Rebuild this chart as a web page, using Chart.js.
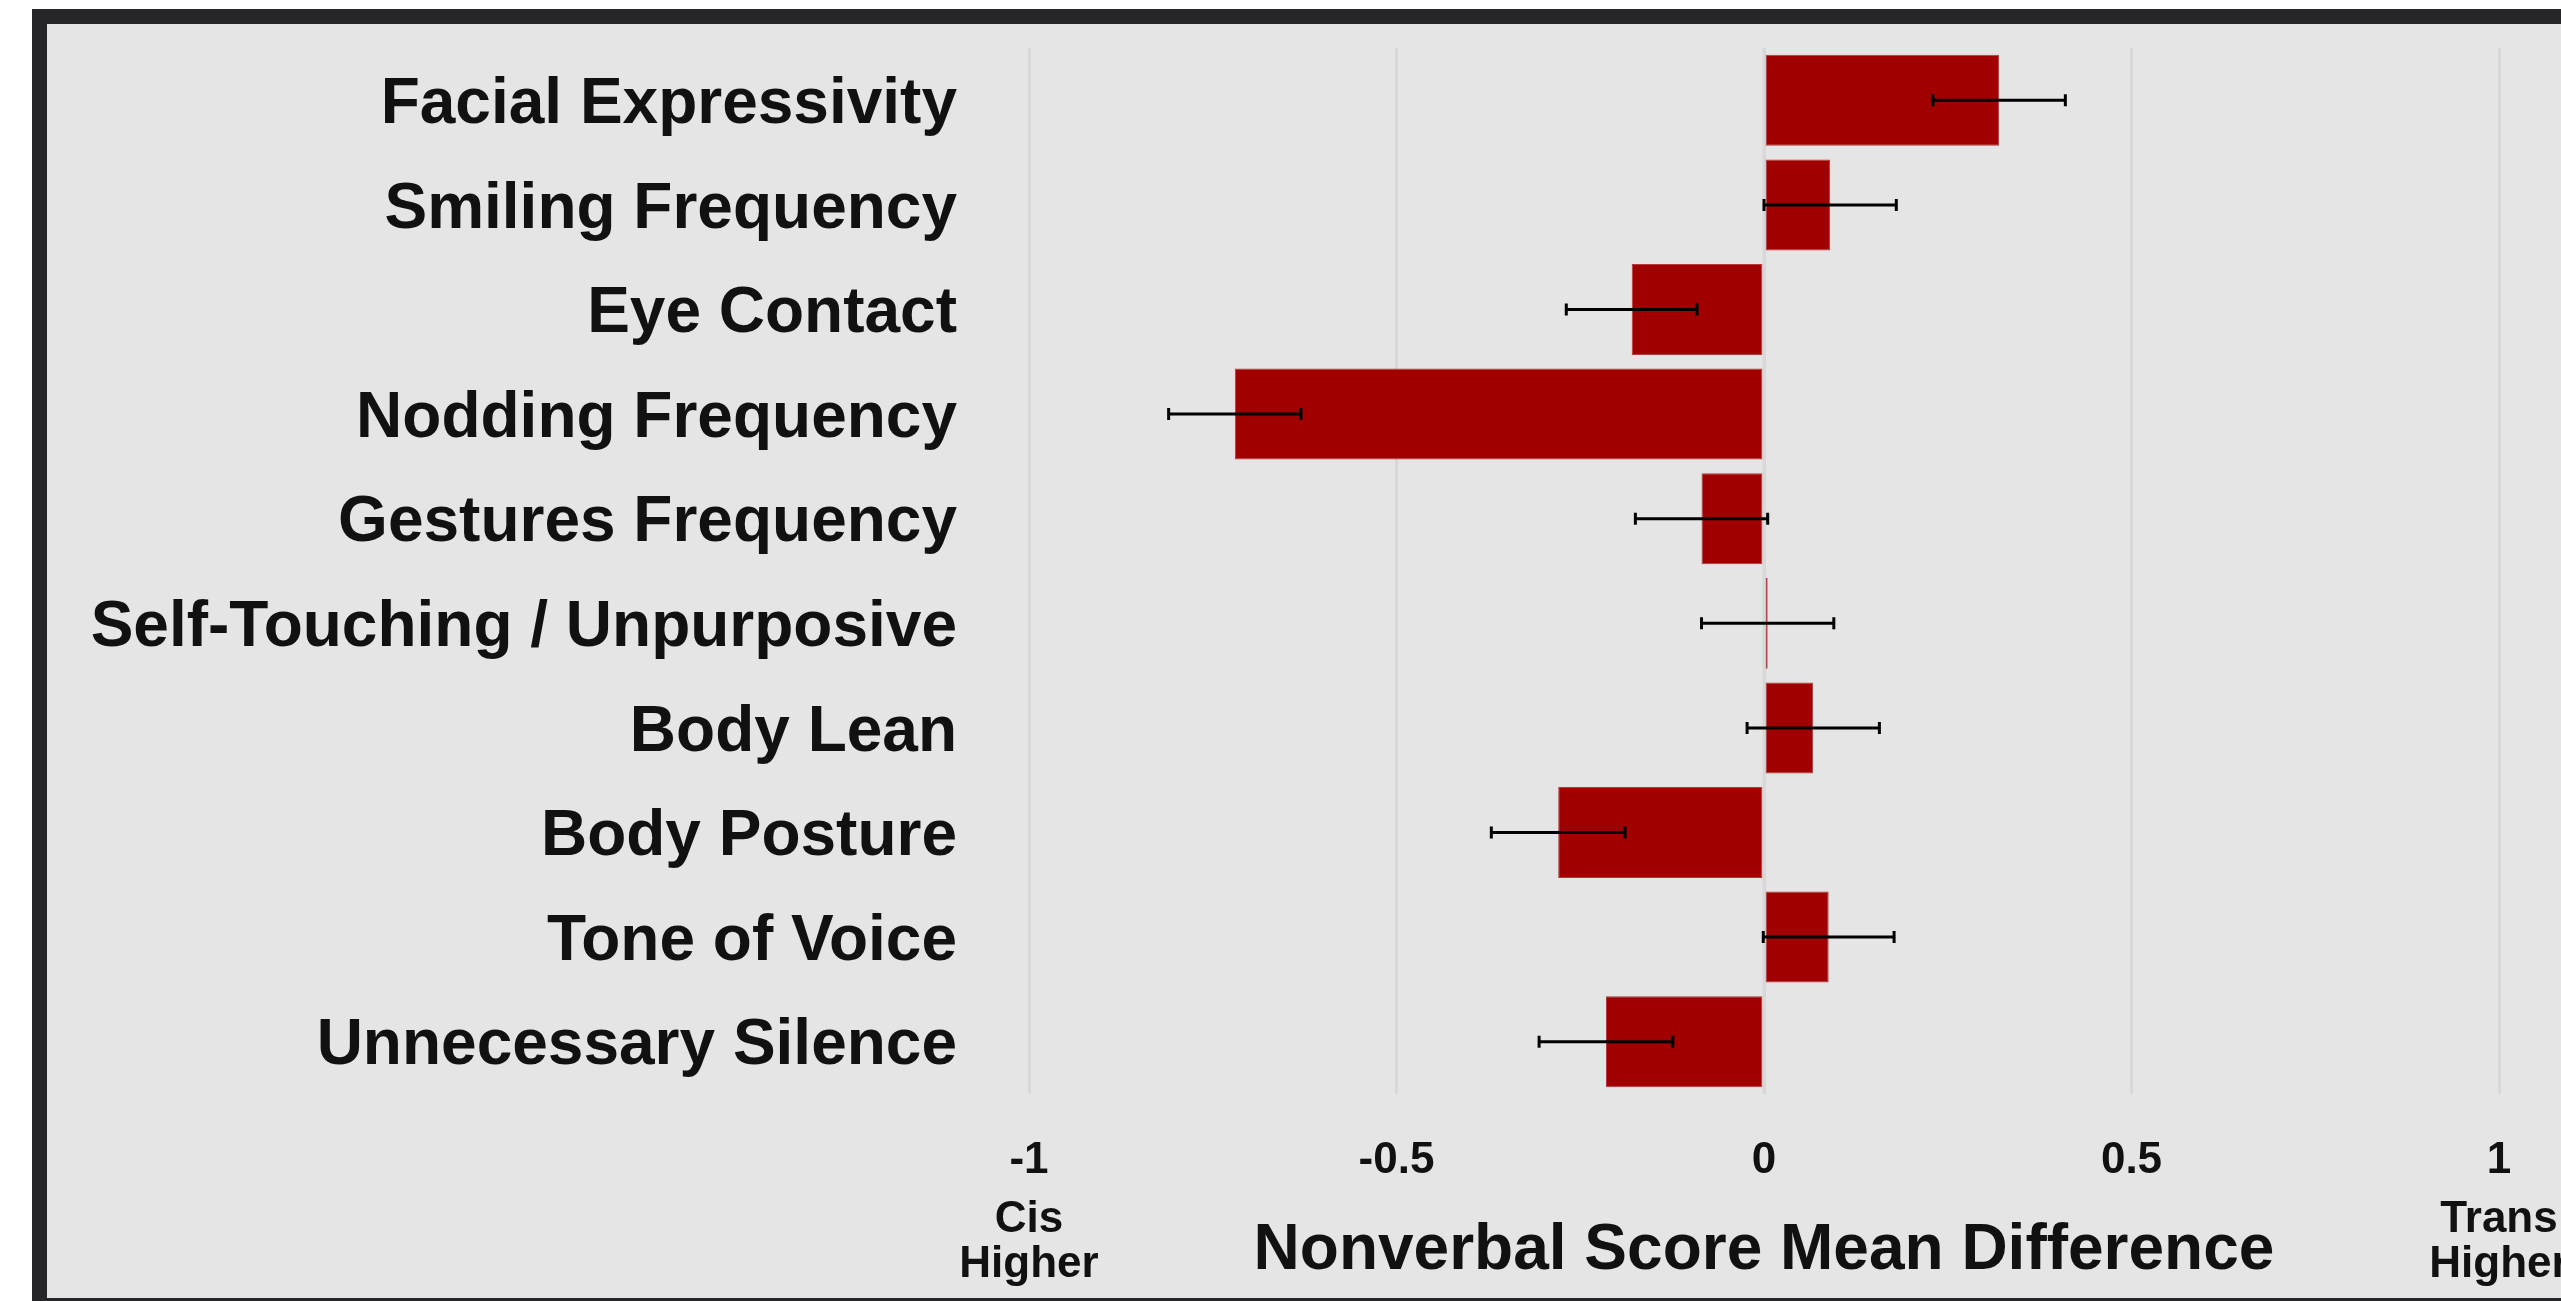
<!DOCTYPE html>
<html>
<head>
<meta charset="utf-8">
<title>Nonverbal Score Mean Difference</title>
<script src="https://cdn.jsdelivr.net/npm/chart.js@4.4.0/dist/chart.umd.min.js"></script>
<style>
  html, body { margin: 0; padding: 0; background: #ffffff; overflow: hidden; }
  #frame {
    position: absolute; left: 32px; top: 9px;
    border: 15px solid #262628;
    background: #e5e5e5;
    width: 2700px; height: 1274px;
  }
  #chart { display: block; }
</style>
</head>
<body>
<div id="frame">
  <canvas id="chart" width="2700" height="1274"></canvas>
</div>
<script>
var categories = ["Facial Expressivity", "Smiling Frequency", "Eye Contact", "Nodding Frequency",
  "Gestures Frequency", "Self-Touching / Unpurposive", "Body Lean", "Body Posture",
  "Tone of Voice", "Unnecessary Silence"];
var meanDiff = [0.32, 0.09, -0.18, -0.72, -0.085, 0.005, 0.067, -0.28, 0.088, -0.215];
var errSize  = [0.09, 0.09, 0.089, 0.09, 0.09, 0.09, 0.09, 0.091, 0.089, 0.091];
var tickValues = [-1, -0.5, 0, 0.5, 1];
var tickLabels = ["-1", "-0.5", "0", "0.5", "1"];
var endLabels = { "-1": ["Cis", "Higher"], "1": ["Trans", "Higher"] };

var gridColor = "#d8d8d8";
var textColor = "#111111";

Chart.defaults.font.family = "'Liberation Sans', Arial, Helvetica, sans-serif";
Chart.defaults.font.weight = "bold";
Chart.defaults.color = textColor;

// zero line sits over the bars, error bars over that
var overlay = {
  id: "overlay",
  afterDatasetsDraw: function(chart) {
    var ctx = chart.ctx;
    var x = chart.scales.x;
    var area = chart.chartArea;
    var meta = chart.getDatasetMeta(0);

    ctx.save();
    ctx.strokeStyle = gridColor;
    ctx.lineWidth = 3;
    var x0 = x.getPixelForValue(0);
    ctx.beginPath();
    ctx.moveTo(x0, area.top);
    ctx.lineTo(x0, area.bottom);
    ctx.stroke();

    ctx.strokeStyle = "#000000";
    ctx.lineWidth = 3;
    for (var i = 0; i < meanDiff.length; i++) {
      var y = meta.data[i].y;
      var lo = x.getPixelForValue(meanDiff[i] - errSize[i]);
      var hi = x.getPixelForValue(meanDiff[i] + errSize[i]);
      ctx.beginPath();
      ctx.moveTo(lo, y); ctx.lineTo(hi, y);
      ctx.moveTo(lo, y - 6); ctx.lineTo(lo, y + 6);
      ctx.moveTo(hi, y - 6); ctx.lineTo(hi, y + 6);
      ctx.stroke();
    }

    // Cis / Trans Higher under the end ticks
    ctx.fillStyle = textColor;
    ctx.font = "bold 44px 'Liberation Sans', Arial, sans-serif";
    ctx.textAlign = "center";
    ctx.textBaseline = "alphabetic";
    Object.keys(endLabels).forEach(function(k) {
      var px = x.getPixelForValue(Number(k));
      ctx.fillText(endLabels[k][0], px, 1208);
      ctx.fillText(endLabels[k][1], px, 1253);
    });
    ctx.restore();
  }
};

new Chart(document.getElementById("chart"), {
  type: "bar",
  data: {
    labels: categories,
    datasets: [{
      data: meanDiff,
      backgroundColor: "#a00000",
      borderColor: "#b23a3a",
      borderWidth: 1,
      borderSkipped: false,
      barPercentage: 0.87,
      categoryPercentage: 1.0
    }]
  },
  options: {
    indexAxis: "y",
    responsive: false,
    devicePixelRatio: 1,
    animation: false,
    layout: { padding: { top: 24, right: 248, bottom: 0, left: 0 } },
    plugins: {
      legend: { display: false },
      tooltip: { enabled: false }
    },
    scales: {
      x: {
        min: -1, max: 1,
        border: { display: false },
        grid: { color: gridColor, lineWidth: 3, drawTicks: false },
        afterBuildTicks: function(scale) {
          scale.ticks = tickValues.map(function(v) { return { value: v }; });
        },
        afterFit: function(scale) {
          scale.height = 204;
          scale.paddingLeft = 0;
          scale.paddingRight = 0;
        },
        ticks: {
          padding: 40,
          maxRotation: 0,
          font: { size: 44, weight: "bold" },
          color: textColor,
          callback: function(value) {
            var i = tickValues.indexOf(value);
            return i >= 0 ? tickLabels[i] : "";
          }
        },
        title: {
          display: true,
          text: "Nonverbal Score Mean Difference",
          color: textColor,
          font: { size: 64, weight: "bold" },
          padding: { top: 0, bottom: 8 }
        }
      },
      y: {
        border: { display: false },
        grid: { display: false, drawTicks: false },
        afterFit: function(scale) {
          scale.width = 982;
          scale.paddingTop = 0;
          scale.paddingBottom = 0;
        },
        ticks: {
          padding: 72,
          labelOffset: 5,
          font: { size: 64, weight: "bold" },
          color: textColor
        }
      }
    }
  },
  plugins: [overlay]
});
</script>
</body>
</html>
